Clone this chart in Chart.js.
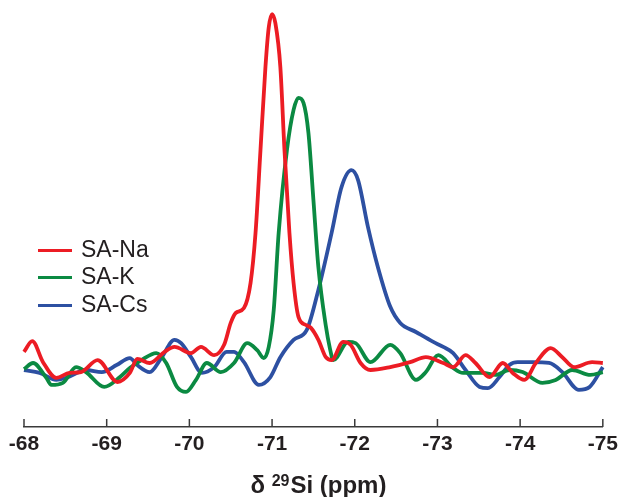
<!DOCTYPE html>
<html>
<head>
<meta charset="utf-8">
<script src="https://cdn.jsdelivr.net/npm/chart.js@4/dist/chart.umd.min.js"></script>
<style>
  html, body { margin: 0; padding: 0; background: #ffffff; }
  #wrap { position: relative; width: 623px; height: 497px; }
  #legend { position: absolute; left: 38px; top: 236px; font-family: "Liberation Sans", Arial, sans-serif; font-size: 23px; color: #231f20; }
  .row { display: flex; align-items: center; height: 27.3px; }
  .sw { display: inline-block; width: 34px; height: 3px; margin-right: 9px; position: relative; top: 1px; }
</style>
</head>
<body>
<div id="wrap">
  <canvas id="c" width="623" height="497"></canvas>
  <div id="legend"></div>
</div>
<script>
const seriesNames = ["SA-Na", "SA-K", "SA-Cs"];
const xTitleParts = ["δ ", "29", "Si (ppm)"];
const tickValues = [-68, -69, -70, -71, -72, -73, -74, -75];

const ppmNa = [-68.00,-68.10,-68.23,-68.39,-68.55,-68.69,-68.89,-69.13,-69.28,-69.37,-69.52,-69.70,-69.82,-70.02,-70.14,-70.30,-70.42,-70.50,-70.56,-70.66,-70.74,-70.80,-70.86,-70.92,-70.96,-71.00,-71.04,-71.10,-71.15,-71.21,-71.26,-71.32,-71.41,-71.47,-71.56,-71.65,-71.72,-71.86,-71.95,-72.07,-72.19,-72.43,-72.67,-72.86,-73.07,-73.19,-73.34,-73.46,-73.63,-73.79,-73.91,-74.05,-74.19,-74.37,-74.51,-74.65,-74.87,-75.00];
const intNa = [18.2,20.8,15.7,11.9,13.1,13.3,16.2,10.9,13.1,16.5,15.5,18.2,19.4,17.9,19.4,17.4,19.9,25.2,27.6,28.8,34.9,47.0,67.1,87.2,96.8,100,97.8,87.2,67.1,47.0,34.9,26.6,24.7,24.0,21.1,16.9,16.2,20.6,19.9,15.5,13.8,14.5,15.7,16.9,15.5,14.5,17.4,15.5,12.1,15.5,13.1,11.4,15.5,19.1,16.9,14.5,15.7,15.5];

const ppmK = [-68.00,-68.11,-68.27,-68.33,-68.47,-68.63,-68.75,-68.97,-69.16,-69.28,-69.42,-69.60,-69.72,-69.85,-69.96,-70.08,-70.21,-70.38,-70.54,-70.70,-70.82,-70.90,-70.96,-71.02,-71.08,-71.18,-71.26,-71.32,-71.38,-71.44,-71.50,-71.56,-71.65,-71.70,-71.74,-71.92,-72.01,-72.19,-72.43,-72.55,-72.74,-72.86,-73.01,-73.19,-73.31,-73.55,-73.70,-73.87,-74.03,-74.27,-74.43,-74.63,-74.85,-75.00];
const intK = [14.0,15.5,11.9,10.2,10.7,14.5,13.3,9.7,12.1,14.3,16.2,17.9,15.5,9.7,8.5,11.4,15.5,13.3,15.5,20.3,18.6,16.7,19.4,28.3,47.0,67.1,76.8,79.7,78.5,71.2,55.0,38.7,24.5,19.0,16.2,20.6,20.3,15.7,19.9,17.9,11.4,13.3,17.4,14.3,13.1,13.1,12.6,13.8,13.3,10.7,11.4,13.8,12.6,13.3];

const ppmCs = [-68.00,-68.19,-68.39,-68.51,-68.75,-68.94,-69.12,-69.28,-69.37,-69.52,-69.66,-69.82,-69.90,-70.02,-70.15,-70.30,-70.45,-70.54,-70.66,-70.84,-70.98,-71.10,-71.26,-71.42,-71.56,-71.72,-71.84,-71.96,-72.04,-72.16,-72.28,-72.43,-72.55,-72.74,-72.95,-73.07,-73.19,-73.34,-73.51,-73.61,-73.75,-73.87,-73.97,-74.15,-74.35,-74.51,-74.71,-74.84,-75.00];
const intCs = [13.8,13.1,11.4,11.9,13.8,13.3,15.0,16.7,15.0,13.3,16.7,21.1,20.3,16.9,13.1,14.5,18.2,18.2,15.7,10.2,12.1,16.9,21.1,23.5,33.2,47.0,58.1,62.2,59.8,48.4,38.7,29.1,25.2,23.0,20.6,19.4,17.9,13.8,9.7,9.4,12.1,15.0,15.7,15.7,15.5,13.3,9.0,9.7,14.5];

const colors = ["#ec1c24", "#0b8a42", "#2d50a2"];
const ink = "#231f20";
const fam = "'Liberation Sans', Arial, sans-serif";

function pts(xs, ys) { return xs.map((x, i) => ({ x: x, y: ys[i] })); }

const axisDecor = {
  id: 'axisDecor',
  afterDraw(chart) {
    const s = chart.scales.x, ctx = chart.ctx;
    const y0 = chart.chartArea.bottom;
    ctx.save();
    // inward tick marks
    ctx.strokeStyle = "#3a3a3a";
    ctx.lineWidth = 1.5;
    s.ticks.forEach(t => {
      const px = s.getPixelForValue(t.value);
      ctx.beginPath();
      ctx.moveTo(px, y0);
      ctx.lineTo(px, y0 - 8);
      ctx.stroke();
    });
    // axis title with superscript
    ctx.fillStyle = ink;
    ctx.textBaseline = 'alphabetic';
    ctx.textAlign = 'left';
    const big = "bold 24px " + fam, small = "bold 16px " + fam;
    ctx.font = big; const w0 = ctx.measureText(xTitleParts[0]).width;
    ctx.font = small; const w1 = ctx.measureText(xTitleParts[1]).width;
    ctx.font = big; const w2 = ctx.measureText(xTitleParts[2]).width;
    const total = w0 + w1 + 1 + w2;
    const cx = (chart.chartArea.left + chart.chartArea.right) / 2 + 5;
    let x = cx - total / 2;
    const base = y0 + 66;
    ctx.font = big; ctx.fillText(xTitleParts[0], x, base); x += w0;
    ctx.font = small; ctx.fillText(xTitleParts[1], x, base - 7); x += w1 + 1;
    ctx.font = big; ctx.fillText(xTitleParts[2], x, base);
    ctx.restore();
  }
};

const chart = new Chart(document.getElementById('c'), {
  type: 'line',
  data: {
    datasets: [
      { label: seriesNames[0], data: pts(ppmNa, intNa), borderColor: colors[0] },
      { label: seriesNames[1], data: pts(ppmK, intK), borderColor: colors[1] },
      { label: seriesNames[2], data: pts(ppmCs, intCs), borderColor: colors[2] }
    ].map(d => Object.assign(d, { borderWidth: 3.8, pointRadius: 0, fill: false, cubicInterpolationMode: 'monotone', clip: false }))
  },
  options: {
    responsive: false,
    animation: false,
    devicePixelRatio: 1,
    layout: { padding: { left: 24, right: 17, top: 0, bottom: 0 } },
    plugins: { legend: { display: false }, tooltip: { enabled: false } },
    scales: {
      x: {
        type: 'linear',
        min: -75, max: -68,
        reverse: true,
        afterBuildTicks(scale) { scale.ticks = tickValues.map(v => ({ value: v })); },
        afterFit(scale) { scale.height = 70; },
        grid: { display: true, drawOnChartArea: false, drawTicks: false },
        border: { display: true, color: "#3a3a3a", width: 1.5 },
        ticks: {
          padding: 5,
          color: ink,
          font: { family: fam, size: 21, weight: 'bold' },
          maxRotation: 0, autoSkip: false
        },
        title: { display: false }
      },
      y: { display: false, min: 0, max: 103.4 }
    }
  },
  plugins: [axisDecor]
});

const leg = document.getElementById('legend');
chart.data.datasets.forEach(ds => {
  const row = document.createElement('div');
  row.className = 'row';
  const sw = document.createElement('span');
  sw.className = 'sw';
  sw.style.background = ds.borderColor;
  const tx = document.createElement('span');
  tx.textContent = ds.label;
  row.appendChild(sw); row.appendChild(tx);
  leg.appendChild(row);
});
</script>
</body>
</html>
